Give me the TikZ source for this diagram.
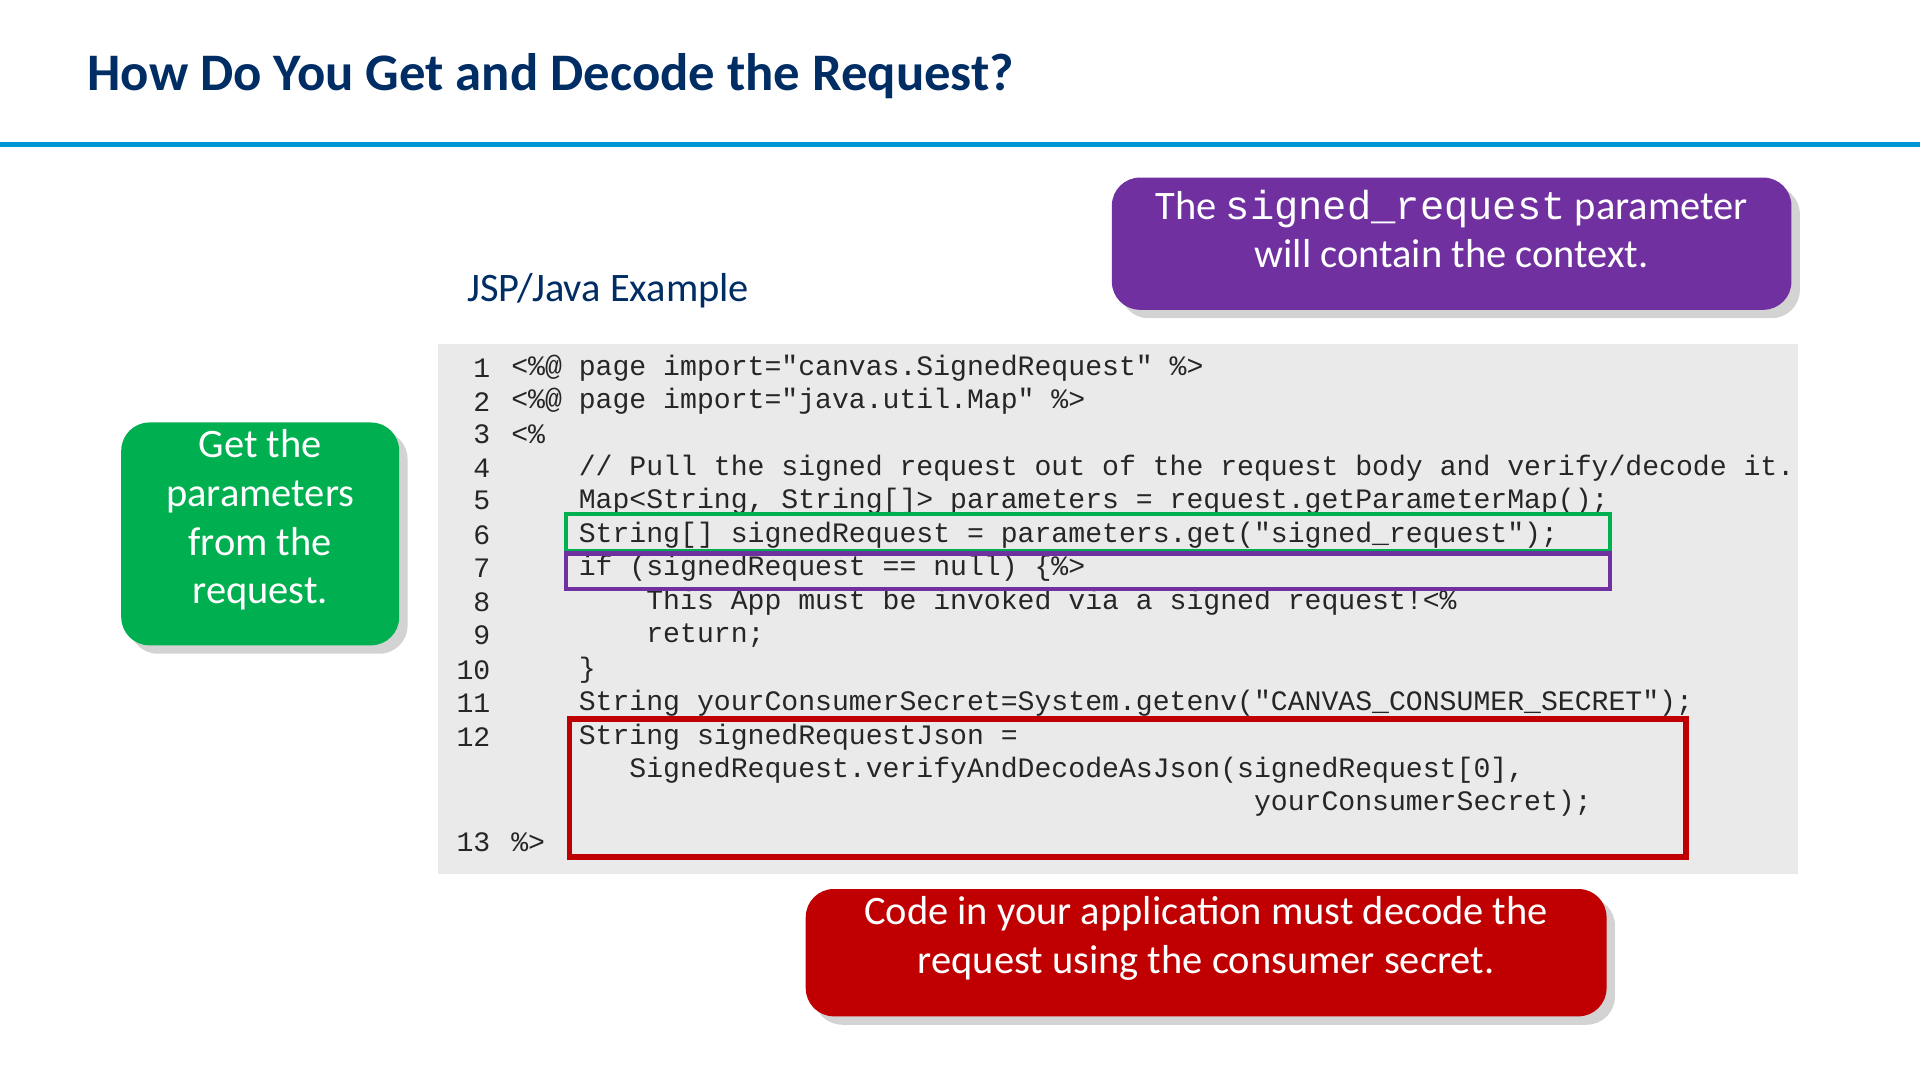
\documentclass[tikz,border=0pt]{standalone}
\usepackage{fontspec}
\setmainfont{Carlito}
\setmonofont{Liberation Mono}
\usetikzlibrary{positioning, fit, shadows}
\definecolor{titleblue}{RGB}{0,45,100}
\definecolor{ruleblue}{RGB}{0,150,214}
\definecolor{callpurple}{RGB}{112,48,160}
\definecolor{callgreen}{RGB}{0,176,80}
\definecolor{callred}{RGB}{192,0,0}
\definecolor{codegray}{RGB}{234,234,234}
\newlength\chw
\setlength\chw{4.8pt}
\newcommand\ind[1]{\hspace*{#1\chw}}

\begin{document}
\begin{tikzpicture}[
    x=0.012245cm, y=-0.012245cm,
    callout/.style={rectangle, rounded corners=8pt, inner sep=0pt, text=white, align=center,
                    font=\fontsize{11.5}{13.9}\selectfont, drop shadow={opacity=0.35}},
    codeline/.style={anchor=west, inner sep=0pt, font=\fontsize{8}{9}\ttfamily, text=black!85},
    linenum/.style={anchor=east, inner sep=0pt, font=\fontsize{8}{9}\ttfamily, text=black!85},
    frame/.style={draw, line width=1.2pt, inner sep=0pt}
]
\useasboundingbox (0,0) rectangle (1568,882);

% Title and rule
\node[anchor=west, inner sep=0pt, text=titleblue, font=\fontsize{15}{18}\selectfont\bfseries] (title) at (71,62) {How Do You Get and Decode the Request?};
\draw[ruleblue, line width=1.3pt] (0,118) -- (1568,118);

% Code area
\fill[codegray] (358,281) rectangle (1468,714);
\node[anchor=west, inner sep=0pt, text=titleblue, font=\fontsize{11.5}{13}\selectfont] (heading) at (381,237) {JSP/Java Example};

\foreach \n/\y in {1/301,2/328,3/355,4/382,5/409,6/437,7/464,8/492,9/519,10/547,11/574,12/602,13/688}
  \node[linenum] (num\n) at (401,\y) {\n};

\node[codeline] (c1) at (417,301) {<\%@ page import="canvas.SignedRequest" \%>};
\node[codeline] (c2) at (417,328) {<\%@ page import="java.util.Map" \%>};
\node[codeline] (c3) at (417,355) {<\%};
\node[codeline] (c4) at (417,382) {\ind{4}// Pull the signed request out of the request body and verify/decode it.};
\node[codeline] (c5) at (417,409) {\ind{4}Map<String, String[]> parameters = request.getParameterMap();};
\node[codeline] (c6) at (417,437) {\ind{4}String[] signedRequest = parameters.get("signed\_request");};
\node[codeline] (c7) at (417,464) {\ind{4}if (signedRequest == null) \{\%>};
\node[codeline] (c8) at (417,492) {\ind{8}This App must be invoked via a signed request!<\%};
\node[codeline] (c9) at (417,519) {\ind{8}return;};
\node[codeline] (c10) at (417,547) {\ind{4}\}};
\node[codeline] (c11) at (417,574) {\ind{4}String yourConsumerSecret=System.getenv("CANVAS\_CONSUMER\_SECRET");};
\node[codeline] (c12) at (417,602) {\ind{4}String signedRequestJson =};
\node[codeline] (c12b) at (417,629) {\ind{7}SignedRequest.verifyAndDecodeAsJson(signedRequest[0],};
\node[codeline] (c12c) at (417,656) {\ind{44}yourConsumerSecret);};
\node[codeline] (c13) at (417,688) {\%>};

% Highlight frames
\node[frame, draw=callgreen, fit={(462,420) (1315,450)}] (greenframe) {};
\node[frame, draw=callpurple, fit={(462,452) (1315,481)}] (purpleframe) {};
\node[frame, draw=callred, line width=1.6pt, fit={(465,587) (1377,700)}] (redframe) {};

% Callouts
\node[callout, fill=callpurple, fit={(908,145) (1463,253)}] (purplenote)
  {The {\ttfamily\fontsize{11.5}{13.9}\selectfont signed\_request} parameter\\will contain the context.};
\node[callout, fill=callgreen, fit={(99,345) (326,527)}] (greennote)
  {Get the\\parameters\\from the\\request.};
\node[callout, fill=callred, fit={(658,726) (1312,830)}] (rednote)
  {Code in your application must decode the\\request using the consumer secret.};
\end{tikzpicture}
\end{document}
